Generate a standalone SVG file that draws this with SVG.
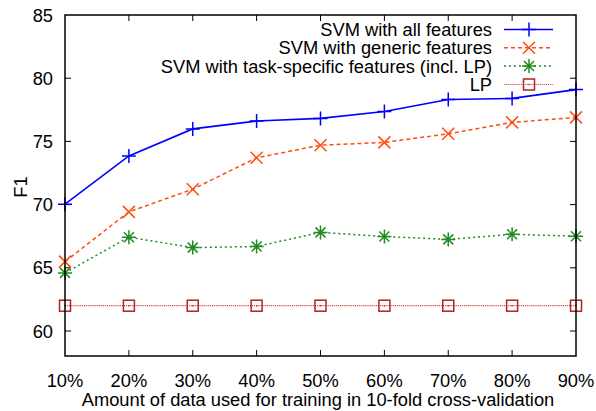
<svg xmlns="http://www.w3.org/2000/svg" xmlns:xlink="http://www.w3.org/1999/xlink" width="596" height="411" viewBox="0 0 596 411">
<style>
text{font-family:"Liberation Sans",Arial,sans-serif;font-size:18.3px;fill:#000}
.ytl{text-anchor:end}
.xtl{text-anchor:middle}
.leg{text-anchor:end}
.frame{fill:none;stroke:#000;stroke-width:1.5}
.tick{stroke:#000;stroke-width:1}
.s1{fill:none;stroke:#0000ff;stroke-width:1.6}
.s2{fill:none;stroke:#ff4d0d;stroke-width:1.5;stroke-dasharray:4 3}
.s3{fill:none;stroke:#228b22;stroke-width:1.5;stroke-dasharray:2 3}
.s4{fill:none;stroke:#d84848;stroke-width:1.2;stroke-dasharray:1.2 0.9}
.m1{stroke:#0000ff;stroke-width:1.5;fill:none}
.m2{stroke:#ff4d0d;stroke-width:1.5;fill:none}
.m3{stroke:#228b22;stroke-width:1.5;fill:none}
.m4{stroke:#b22222;stroke-width:1.5;fill:none}
</style>
<defs>
<g id="plus"><path d="M-7,0H7M0,-7V7"/></g>
<g id="cross"><path d="M-6,-6L6,6M-6,6L6,-6"/></g>
<g id="star"><path d="M-7,0H7M0,-7V7M-5,-5L5,5M-5,5L5,-5"/></g>
<g id="sq"><rect x="-5.5" y="-5.5" width="11" height="11"/><path d="M-0.6,0H0.6"/></g>
</defs>
<rect width="596" height="411" fill="#fff"/>
<g id="axes">
<g id="ticks">
<path class="tick" d="M65,331H71M65,267.8H71M65,204.6H71M65,141.4H71M65,78.2H71M576,331H570M576,267.8H570M576,204.6H570M576,141.4H570M576,78.2H570"/>
<path class="tick" d="M128.9,356V350M192.75,356V350M256.6,356V350M320.5,356V350M384.4,356V350M448.25,356V350M512.1,356V350M128.9,15V21M192.75,15V21M256.6,15V21M320.5,15V21M384.4,15V21M448.25,15V21M512.1,15V21"/>
</g>
<g id="ylabels">
<text class="ytl" x="53" y="337.6">60</text>
<text class="ytl" x="53" y="274.4">65</text>
<text class="ytl" x="53" y="211.2">70</text>
<text class="ytl" x="53" y="148">75</text>
<text class="ytl" x="53" y="84.8">80</text>
<text class="ytl" x="53" y="21.6">85</text>
</g>
<g id="xlabels">
<text class="xtl" x="65" y="386.5">10%</text>
<text class="xtl" x="128.9" y="386.5">20%</text>
<text class="xtl" x="192.75" y="386.5">30%</text>
<text class="xtl" x="256.6" y="386.5">40%</text>
<text class="xtl" x="320.5" y="386.5">50%</text>
<text class="xtl" x="384.4" y="386.5">60%</text>
<text class="xtl" x="448.25" y="386.5">70%</text>
<text class="xtl" x="512.1" y="386.5">80%</text>
<text class="xtl" x="576" y="386.5">90%</text>
</g>
<text x="27" y="187" text-anchor="middle" transform="rotate(-90 27 187)">F1</text>
<text x="318" y="405.5" text-anchor="middle">Amount of data used for training in 10-fold cross-validation</text>
</g>
<g id="legend">
<text class="leg" x="492" y="36">SVM with all features</text>
<text class="leg" x="492" y="54.3">SVM with generic features</text>
<text class="leg" x="492" y="72.5">SVM with task-specific features (incl. LP)</text>
<text class="leg" x="492" y="91">LP</text>
<path class="s1" d="M504,29.5H553"/>
<use href="#plus" class="m1" x="529" y="29.5"/>
<path class="s2" d="M504,47.8H553"/>
<use href="#cross" class="m2" x="529" y="47.8"/>
<path class="s3" d="M504,66H553"/>
<use href="#star" class="m3" x="529" y="66"/>
<path class="s4" d="M504,84.5H553"/>
<use href="#sq" class="m4" x="529" y="84.5"/>
</g>
<g id="connectors">
<polyline class="s4" points="65,305.7 128.9,305.7 192.75,305.7 256.6,305.7 320.5,305.7 384.4,305.7 448.25,305.7 512.1,305.7 576,305.7"/>
<polyline class="s3" points="65,272.9 128.9,237.2 192.75,247.6 256.6,246.5 320.5,232.4 384.4,236.5 448.25,239.4 512.1,234.3 576,236.2"/>
<polyline class="s2" points="65,261.6 128.9,211.9 192.75,189.2 256.6,157.8 320.5,145.2 384.4,142.4 448.25,133.8 512.1,122.4 576,117.4"/>
<polyline class="s1" points="65,204.2 128.9,155.9 192.75,128.9 256.6,121 320.5,118.4 384.4,111.5 448.25,99.5 512.1,98.4 576,89.6"/>
</g>
<g id="series-lp" class="m4">
<use href="#sq" x="65" y="305.7"/><use href="#sq" x="128.9" y="305.7"/><use href="#sq" x="192.75" y="305.7"/><use href="#sq" x="256.6" y="305.7"/><use href="#sq" x="320.5" y="305.7"/><use href="#sq" x="384.4" y="305.7"/><use href="#sq" x="448.25" y="305.7"/><use href="#sq" x="512.1" y="305.7"/><use href="#sq" x="576" y="305.7"/>
</g>
<g id="series-task" class="m3">
<use href="#star" x="65" y="272.9"/><use href="#star" x="128.9" y="237.2"/><use href="#star" x="192.75" y="247.6"/><use href="#star" x="256.6" y="246.5"/><use href="#star" x="320.5" y="232.4"/><use href="#star" x="384.4" y="236.5"/><use href="#star" x="448.25" y="239.4"/><use href="#star" x="512.1" y="234.3"/><use href="#star" x="576" y="236.2"/>
</g>
<g id="series-generic" class="m2">
<use href="#cross" x="65" y="261.6"/><use href="#cross" x="128.9" y="211.9"/><use href="#cross" x="192.75" y="189.2"/><use href="#cross" x="256.6" y="157.8"/><use href="#cross" x="320.5" y="145.2"/><use href="#cross" x="384.4" y="142.4"/><use href="#cross" x="448.25" y="133.8"/><use href="#cross" x="512.1" y="122.4"/><use href="#cross" x="576" y="117.4"/>
</g>
<g id="series-all" class="m1">
<use href="#plus" x="65" y="204.2"/><use href="#plus" x="128.9" y="155.9"/><use href="#plus" x="192.75" y="128.9"/><use href="#plus" x="256.6" y="121"/><use href="#plus" x="320.5" y="118.4"/><use href="#plus" x="384.4" y="111.5"/><use href="#plus" x="448.25" y="99.5"/><use href="#plus" x="512.1" y="98.4"/><use href="#plus" x="576" y="89.6"/>
</g>
<rect class="frame" x="65" y="15" width="511" height="341"/>
</svg>
